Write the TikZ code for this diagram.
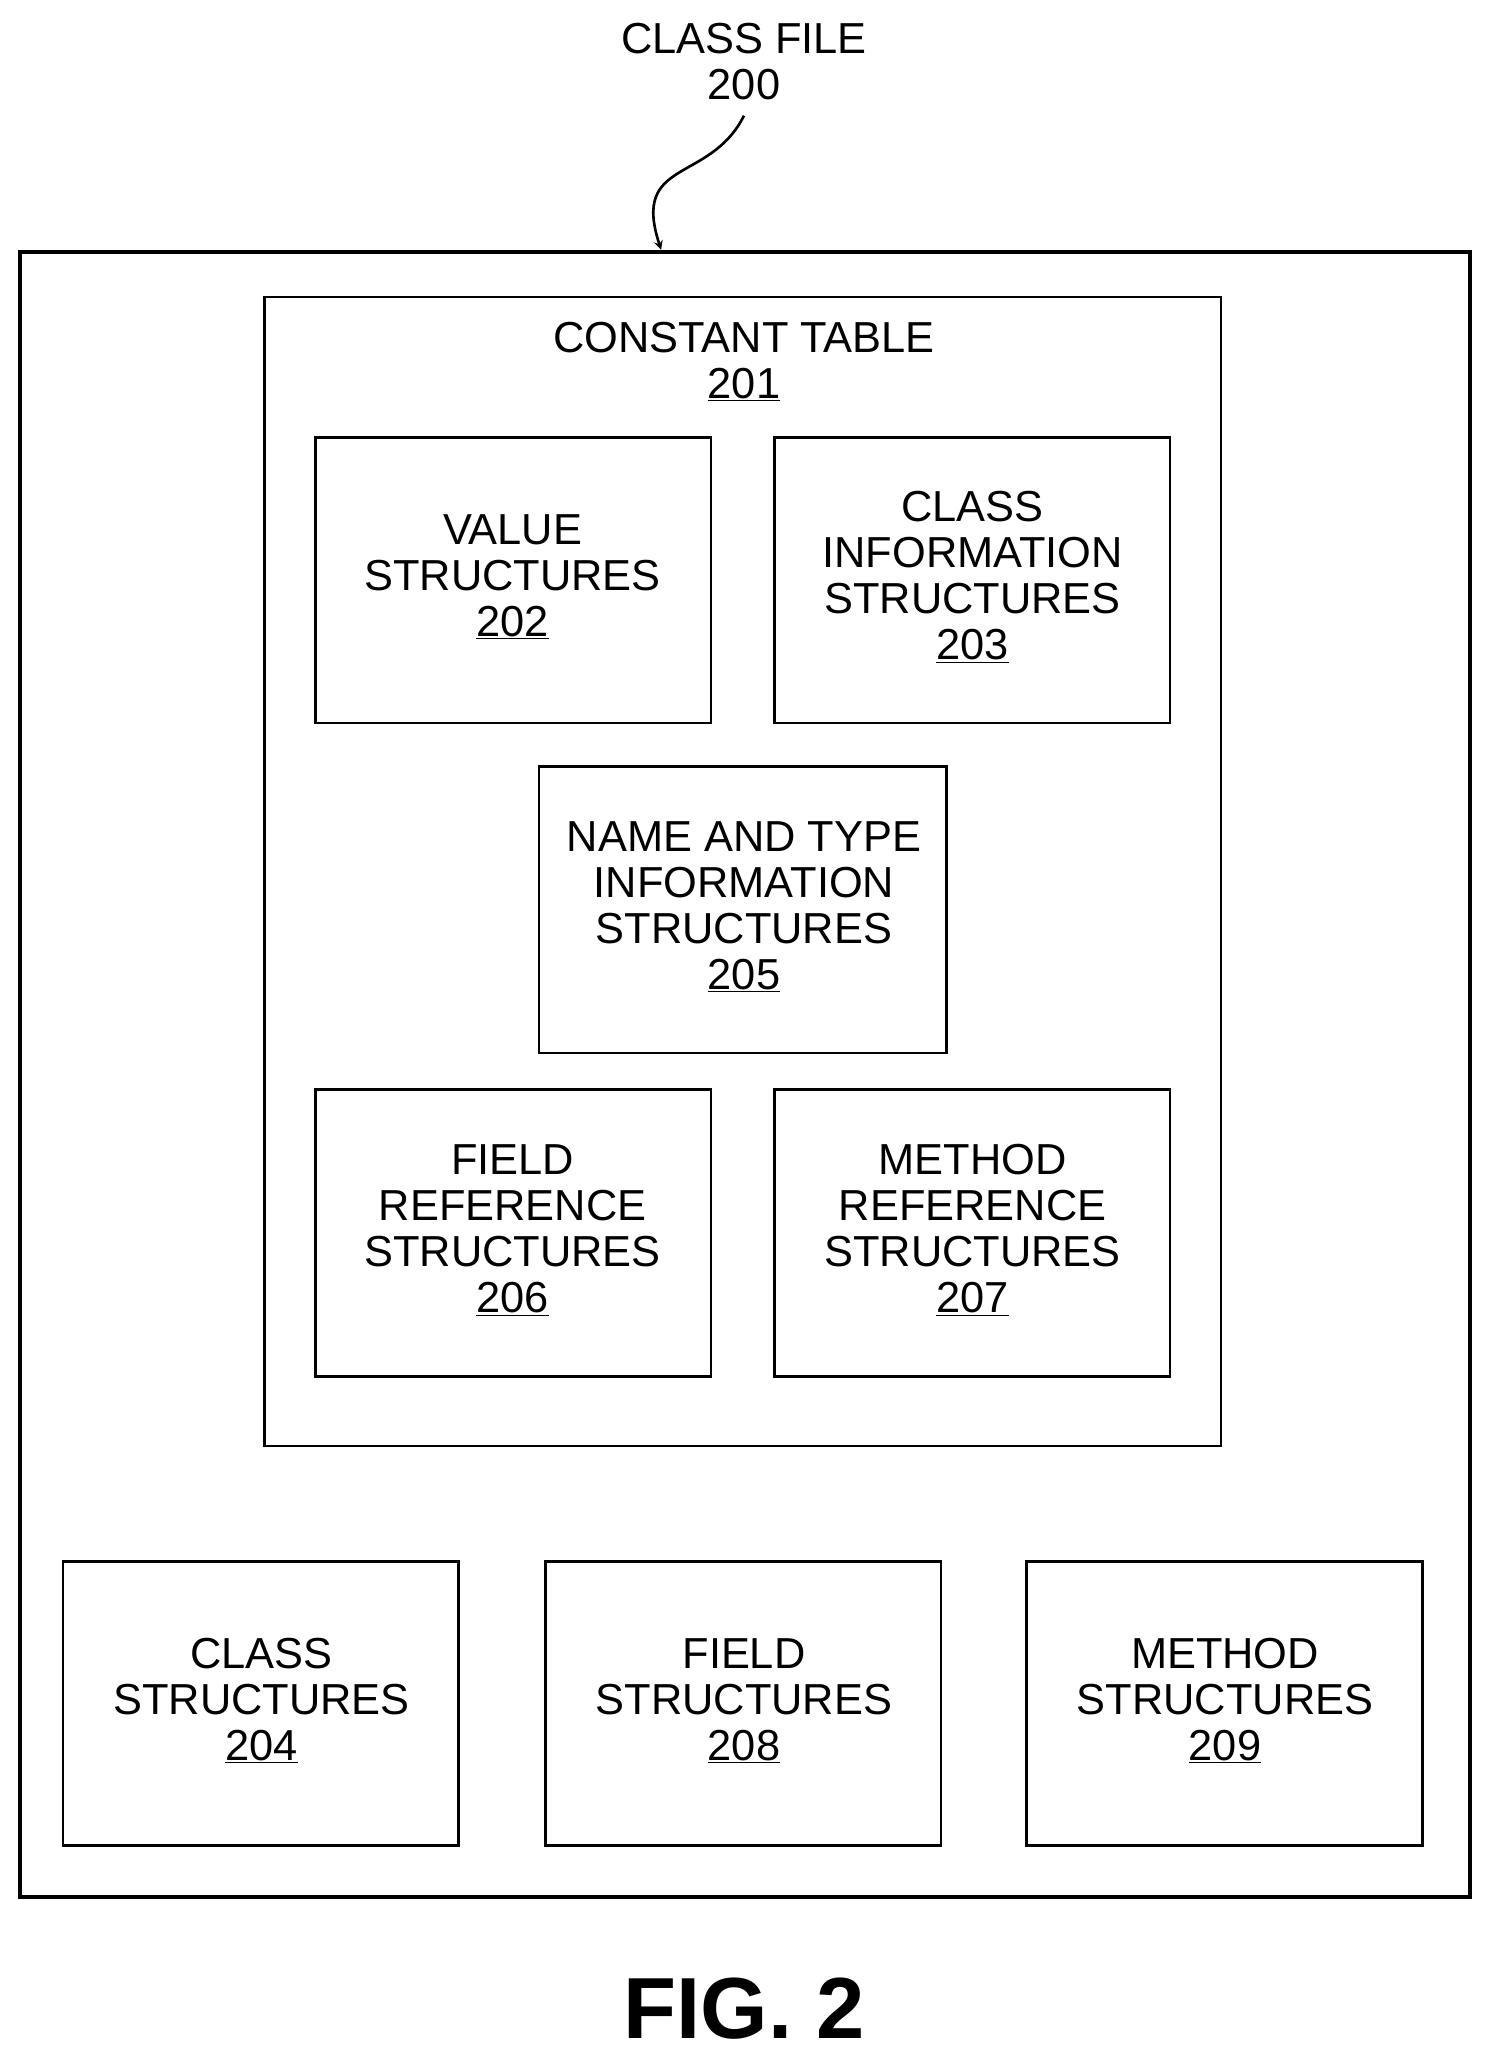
\documentclass[tikz,border=0pt]{standalone}
\usepackage{fontspec}
\setmainfont{Liberation Sans}
\usetikzlibrary{decorations.pathmorphing}
\begin{document}
\begin{tikzpicture}[x=1pt,y=-1pt,
  bx/.style={draw,line width=2pt,fill=none},
  lbl/.style={align=center,font=\fontsize{33}{35}\selectfont,inner sep=0pt}]
\useasboundingbox (0,0) rectangle (1134,1568);
\node[lbl] (title) at (566,47) {CLASS FILE\\200};
\draw[line width=3pt] (15,192) rectangle (1118,1443);
\coordinate (tgt) at (503,190);
\draw[line width=2pt,-stealth] (566,88) .. controls (540,140) and (480,120) .. (tgt);
\draw[bx] (201,226) rectangle (929,1100);
\node[lbl] (ct) at (566,275) {CONSTANT TABLE\\\underline{201}};
\draw[bx] (240,333) rectangle (541,550);
\node[lbl] (n202) at (390,439) {VALUE\\STRUCTURES\\\underline{202}};
\draw[bx] (589,333) rectangle (890,550);
\node[lbl] (n203) at (740,439) {CLASS\\INFORMATION\\STRUCTURES\\\underline{203}};
\draw[bx] (410,583) rectangle (720,801);
\node[lbl] (n205) at (566,690) {NAME AND TYPE\\INFORMATION\\STRUCTURES\\\underline{205}};
\draw[bx] (240,829) rectangle (541,1047);
\node[lbl] (n206) at (390,936) {FIELD\\REFERENCE\\STRUCTURES\\\underline{206}};
\draw[bx] (589,829) rectangle (890,1047);
\node[lbl] (n207) at (740,936) {METHOD\\REFERENCE\\STRUCTURES\\\underline{207}};
\draw[bx] (48,1188) rectangle (349,1404);
\node[lbl] (n204) at (199,1294) {CLASS\\STRUCTURES\\\underline{204}};
\draw[bx] (415,1188) rectangle (716,1404);
\node[lbl] (n208) at (566,1294) {FIELD\\STRUCTURES\\\underline{208}};
\draw[bx] (781,1188) rectangle (1082,1404);
\node[lbl] (n209) at (932,1294) {METHOD\\STRUCTURES\\\underline{209}};
\node[font=\fontsize{66}{70}\selectfont\bfseries,inner sep=0pt] (fig) at (566,1528) {FIG. 2};
\end{tikzpicture}
\end{document}
